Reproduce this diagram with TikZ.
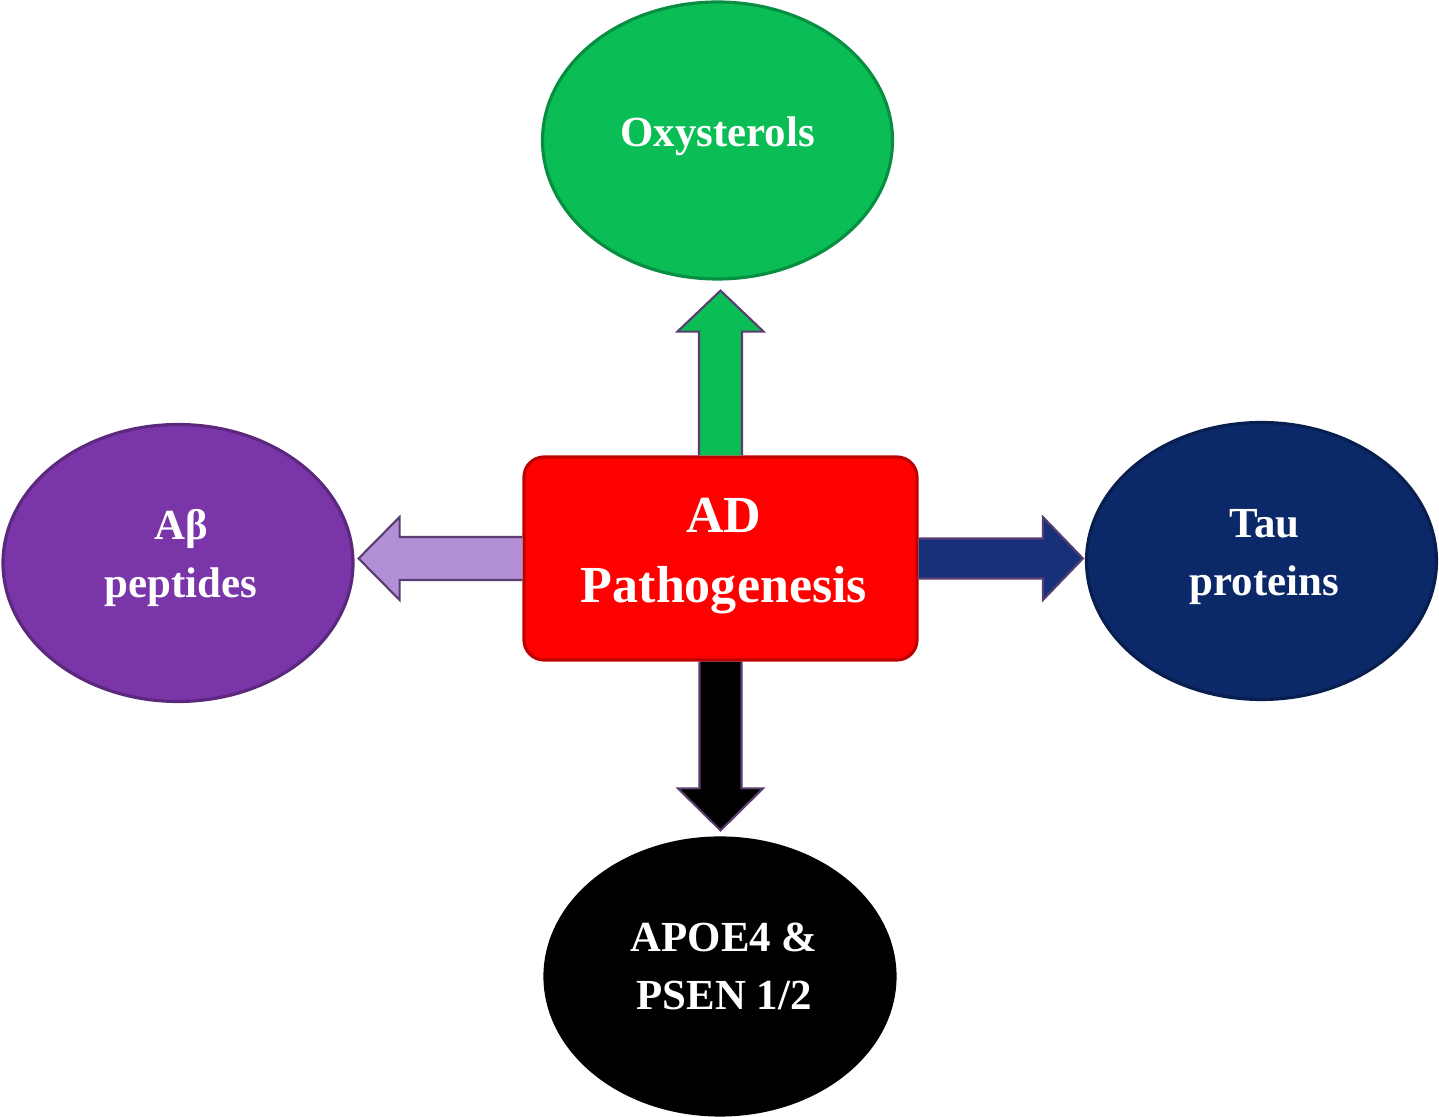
\documentclass[tikz,border=0pt]{standalone}
\usepackage{fontspec}
\setmainfont{Liberation Serif}
\usepackage{xcolor}
\usepackage{tikz}
\usetikzlibrary{calc,positioning,shapes.geometric}
\definecolor{verdeBox}{RGB}{11,189,85}
\definecolor{moradoBox}{RGB}{122,53,168}
\definecolor{azulBox}{RGB}{11,40,104}
\definecolor{rojoBox}{RGB}{255,0,0}
\definecolor{lilaArrow}{RGB}{178,143,214}
\definecolor{azulArrow}{RGB}{22,48,122}
\definecolor{bordeArrow}{RGB}{88,62,112}

\begin{document}
\begin{tikzpicture}[
  elipse/.style={ellipse, draw=#1!75!black, fill=#1, line width=0.9pt,
    inner sep=0pt, minimum width=3.5cm, minimum height=2.77cm},
  texto/.style={text=white, align=center, inner sep=0pt,
    font=\fontsize{12.2}{16.5}\selectfont\bfseries},
  flecha/.style={draw=bordeArrow, line width=0.6pt, fill=#1},
]
  \useasboundingbox (0,0) rectangle (14.39,11.17);
  % Center box (AD - rojo)
  \node[rectangle, rounded corners=2mm, draw=rojoBox!75!black, fill=rojoBox,
    line width=0.9pt, minimum width=3.93cm, minimum height=2.03cm]
    (ad) at (7.205,5.585) {};
  \node[texto, font=\fontsize{14.8}{19.9}\selectfont\bfseries]
    (adText) at ([xshift=0.35mm,yshift=0.25mm]ad) {AD\\Pathogenesis};
  % Four ellipses
  \node[elipse=verdeBox] (oxy) at (7.175,9.765) {};
  \node[elipse=moradoBox] (ab) at (1.78,5.54) {};
  \node[elipse=azulBox] (tau) at (12.615,5.56) {};
  \node[elipse=black] (apoe) at (7.20,1.405) {};
  \node[texto] (oxyText) at ([yshift=0.4mm]oxy) {Oxysterols};
  \node[texto] (abText) at ([xshift=0.3mm,yshift=0.5mm]ab) {Aβ\\peptides};
  \node[texto] (tauText) at ([xshift=0.3mm,yshift=0.4mm]tau) {Tau\\proteins};
  \node[texto] (apoeText) at ([xshift=0.4mm,yshift=1.0mm]apoe) {APOE4 \&\\PSEN 1/2};
  % Arrow tips
  \coordinate (tipUp) at ($(ad.north |- oxy.south)+(0,-0.1)$);
  \coordinate (tipLeft) at ($(ab.east |- ad.west)+(0.04,0)$);
  \coordinate (tipRight) at ($(tau.west |- ad.east)+(-0.02,0)$);
  \coordinate (tipDown) at ($(ad.south |- apoe.north)+(0,0.06)$);
  % Up arrow (verde)
  \filldraw[flecha=verdeBox] ([xshift=-2.15mm]ad.north)
    -- ([xshift=-2.15mm,yshift=-4.1mm]tipUp) -- ([xshift=-4.3mm,yshift=-4.1mm]tipUp)
    -- (tipUp) -- ([xshift=4.3mm,yshift=-4.1mm]tipUp)
    -- ([xshift=2.15mm,yshift=-4.1mm]tipUp) -- ([xshift=2.15mm]ad.north);
  % Left arrow (lila)
  \filldraw[flecha=lilaArrow] ([yshift=2.15mm]ad.west)
    -- ([xshift=4.1mm,yshift=2.15mm]tipLeft) -- ([xshift=4.1mm,yshift=4.15mm]tipLeft)
    -- (tipLeft) -- ([xshift=4.1mm,yshift=-4.15mm]tipLeft)
    -- ([xshift=4.1mm,yshift=-2.15mm]tipLeft) -- ([yshift=-2.15mm]ad.west);
  % Right arrow (azul)
  \filldraw[flecha=azulArrow] ([yshift=2.0mm]ad.east)
    -- ([xshift=-4.0mm,yshift=2.0mm]tipRight) -- ([xshift=-4.0mm,yshift=4.15mm]tipRight)
    -- (tipRight) -- ([xshift=-4.0mm,yshift=-4.15mm]tipRight)
    -- ([xshift=-4.0mm,yshift=-2.0mm]tipRight) -- ([yshift=-2.0mm]ad.east);
  % Down arrow (negro)
  \filldraw[flecha=black] ([xshift=-2.1mm]ad.south)
    -- ([xshift=-2.1mm,yshift=4.2mm]tipDown) -- ([xshift=-4.25mm,yshift=4.2mm]tipDown)
    -- (tipDown) -- ([xshift=4.25mm,yshift=4.2mm]tipDown)
    -- ([xshift=2.1mm,yshift=4.2mm]tipDown) -- ([xshift=2.1mm]ad.south);
\end{tikzpicture}
\end{document}
